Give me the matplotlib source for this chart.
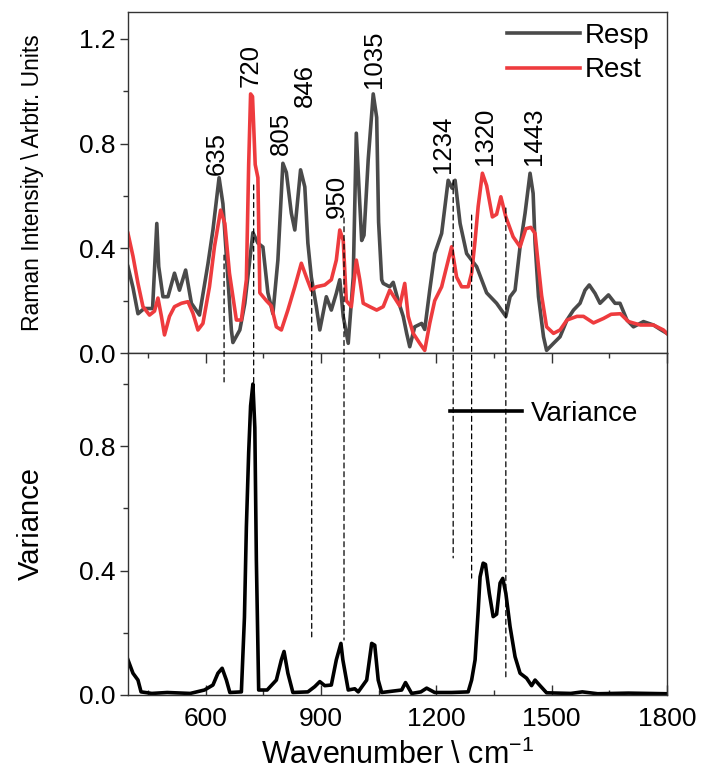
import matplotlib
matplotlib.use("Agg")
import matplotlib.pyplot as plt
from matplotlib.patches import ConnectionPatch
from matplotlib.ticker import MultipleLocator

plt.rcParams['font.family'] = ['Liberation Sans', 'DejaVu Sans']

# Raman spectra (top panel)
resp_wn = [398, 411, 424, 440, 462, 473, 478, 489, 502, 519, 532, 548, 563, 584,
           606, 619, 635, 645, 654, 667, 671, 689, 702, 723, 736, 749, 762, 775,
           788, 801, 810, 823, 832, 847, 858, 866, 875, 888, 897, 914, 927, 940,
           949, 958, 971, 984, 992, 1000, 1006, 1012, 1023, 1036, 1045, 1050, 1058,
           1062, 1079, 1088, 1101, 1114, 1123, 1131, 1144, 1162, 1170, 1183, 1196,
           1214, 1231, 1241, 1249, 1262, 1279, 1305, 1331, 1357, 1381, 1392, 1405,
           1418, 1431, 1444, 1452, 1457, 1466, 1479, 1487, 1505, 1522, 1540, 1557,
           1574, 1587, 1598, 1613, 1626, 1648, 1665, 1678, 1696, 1713, 1739, 1765,
           1783, 1800]
resp_val = [0.33, 0.25, 0.15, 0.17, 0.17, 0.495, 0.33, 0.215, 0.215, 0.305, 0.24,
            0.317, 0.19, 0.145, 0.34, 0.47, 0.67, 0.57, 0.37, 0.088, 0.04, 0.088,
            0.19, 0.46, 0.42, 0.405, 0.23, 0.15, 0.355, 0.725, 0.69, 0.534, 0.47,
            0.70, 0.635, 0.42, 0.29, 0.177, 0.088, 0.215, 0.164, 0.228, 0.28, 0.14,
            0.037, 0.29, 0.84, 0.6, 0.43, 0.45, 0.74, 0.99, 0.90, 0.5, 0.28, 0.266,
            0.253, 0.27, 0.2, 0.14, 0.075, 0.024, 0.1, 0.113, 0.09, 0.24, 0.38,
            0.457, 0.66, 0.63, 0.66, 0.495, 0.38, 0.33, 0.23, 0.19, 0.14, 0.215,
            0.24, 0.406, 0.534, 0.687, 0.61, 0.42, 0.215, 0.062, 0.01, 0.037, 0.062,
            0.126, 0.164, 0.19, 0.24, 0.26, 0.228, 0.19, 0.222, 0.19, 0.19, 0.126,
            0.1, 0.12, 0.107, 0.09, 0.075]

rest_wn = [398, 411, 424, 437, 454, 467, 476, 485, 493, 506, 519, 537, 554, 567,
           580, 593, 610, 623, 639, 650, 662, 680, 693, 706, 712, 717, 722, 729,
           736, 741, 758, 771, 784, 797, 814, 832, 849, 862, 875, 888, 910, 927,
           940, 949, 958, 966, 979, 992, 1001, 1010, 1027, 1045, 1062, 1079, 1092,
           1105, 1118, 1127, 1140, 1157, 1170, 1183, 1196, 1214, 1227, 1240, 1253,
           1266, 1283, 1292, 1301, 1309, 1320, 1331, 1346, 1357, 1368, 1381, 1400,
           1418, 1433, 1446, 1457, 1466, 1474, 1487, 1505, 1522, 1540, 1566, 1583,
           1609, 1635, 1655, 1679, 1700, 1731, 1765, 1791, 1800]
rest_val = [0.457, 0.37, 0.266, 0.177, 0.145, 0.16, 0.21, 0.14, 0.069, 0.14, 0.177,
            0.19, 0.196, 0.152, 0.088, 0.113, 0.253, 0.406, 0.546, 0.495, 0.305,
            0.126, 0.126, 0.28, 0.72, 0.99, 0.98, 0.72, 0.67, 0.23, 0.2, 0.18, 0.1,
            0.088, 0.164, 0.253, 0.343, 0.29, 0.24, 0.253, 0.26, 0.28, 0.355, 0.47,
            0.43, 0.2, 0.177, 0.355, 0.28, 0.19, 0.177, 0.164, 0.177, 0.24, 0.21,
            0.18, 0.266, 0.14, 0.075, 0.037, 0.01, 0.113, 0.2, 0.253, 0.33, 0.406,
            0.29, 0.253, 0.253, 0.305, 0.43, 0.56, 0.687, 0.64, 0.52, 0.53, 0.597,
            0.52, 0.444, 0.406, 0.475, 0.48, 0.457, 0.33, 0.22, 0.10, 0.075, 0.088,
            0.126, 0.14, 0.14, 0.115, 0.132, 0.148, 0.15, 0.12, 0.107, 0.107, 0.088,
            0.075]

# variance spectrum (bottom panel)
var_wn = [398, 411, 424, 432, 460, 500, 560, 597, 619, 632, 643, 654, 663, 693,
          701, 706, 712, 717, 723, 728, 732, 738, 760, 784, 797, 804, 814, 827,
          866, 884, 897, 910, 927, 940, 952, 957, 971, 988, 997, 1019, 1032, 1040,
          1049, 1058, 1110, 1120, 1136, 1160, 1175, 1196, 1240, 1283, 1292, 1301,
          1309, 1314, 1322, 1328, 1338, 1348, 1357, 1366, 1373, 1381, 1392, 1405,
          1418, 1435, 1448, 1457, 1470, 1487, 1550, 1580, 1620, 1700, 1800]
var_val = [0.113, 0.07, 0.048, 0.01, 0.005, 0.008, 0.005, 0.016, 0.032, 0.07, 0.086,
           0.048, 0.008, 0.01, 0.25, 0.54, 0.78, 0.93, 1.0, 0.86, 0.434, 0.016,
           0.016, 0.048, 0.113, 0.14, 0.07, 0.008, 0.01, 0.027, 0.043, 0.03, 0.032,
           0.113, 0.166, 0.113, 0.016, 0.02, 0.01, 0.048, 0.166, 0.16, 0.048, 0.008,
           0.016, 0.04, 0.005, 0.01, 0.022, 0.008, 0.008, 0.01, 0.048, 0.113, 0.27,
           0.38, 0.424, 0.42, 0.327, 0.252, 0.26, 0.36, 0.375, 0.327, 0.22, 0.123,
           0.07, 0.054, 0.03, 0.048, 0.03, 0.007, 0.005, 0.01, 0.004, 0.006, 0.004]

# peak labels: (text, x, y at label base)
peak_txt = ['635', '720', '805', '846', '950', '1035', '1234', '1320', '1443']
peak_x = [628, 716, 795, 857, 942, 1038, 1218, 1327, 1454]
peak_y = [0.68, 1.015, 0.757, 0.94, 0.516, 1.013, 0.688, 0.718, 0.718]

# dashed guide lines: x, top end (top panel units), bottom end (variance units)
guide_x = [648, 725, 876, 960, 1244, 1292, 1381]
guide_top = [0.374, 0.642, 0.271, 0.516, 0.661, 0.527, 0.554]
guide_bot = [1.007, 0.95, 0.187, 0.177, 0.441, 0.376, 0.048]

c_resp = '#4a4a4a'
c_rest = '#ee3b3e'

fig = plt.figure(figsize=(7.02, 7.76), dpi=100)
ax0 = fig.add_axes([0.1823, 0.5451, 0.7677, 0.4394])
ax1 = fig.add_axes([0.1823, 0.1044, 0.7677, 0.4407])

ax0.plot(resp_wn, resp_val, color=c_resp, lw=2.6, label='Resp')
ax0.plot(rest_wn, rest_val, color=c_rest, lw=2.6, label='Rest')
ax1.plot(var_wn, var_val, color='black', lw=2.6, label='Variance')

for t, x, y in zip(peak_txt, peak_x, peak_y):
    ax0.text(x, y, t, rotation=90, ha='center', va='bottom', fontsize=18.5)

for x, yt, yb in zip(guide_x, guide_top, guide_bot):
    con = ConnectionPatch(xyA=(x, yt), coordsA=ax0.transData,
                          xyB=(x, yb), coordsB=ax1.transData,
                          color='black', lw=0.9, linestyle=(0, (4, 3)))
    fig.add_artist(con)

ax0.set_xlim(398, 1800)
ax1.set_xlim(398, 1800)
ax0.set_ylim(0, 1.303)
ax1.set_ylim(0, 1.1)

for ax in (ax0, ax1):
    for s in ax.spines.values():
        s.set_linewidth(1.0)
        s.set_color('#333333')
    ax.xaxis.set_major_locator(MultipleLocator(300))
    ax.xaxis.set_minor_locator(MultipleLocator(150))
    ax.yaxis.set_major_locator(MultipleLocator(0.4))
    ax.yaxis.set_minor_locator(MultipleLocator(0.2))
    ax.tick_params(axis='y', which='both', direction='out', labelsize=19,
                   right=False, pad=3, color='#333333')
    ax.tick_params(axis='y', which='major', length=6, width=1.0)
    ax.tick_params(axis='y', which='minor', length=3.5, width=1.0)

ax0.tick_params(axis='x', which='both', bottom=False, top=False, labelbottom=False)
ax1.tick_params(axis='x', which='both', direction='in', top=True, bottom=True,
                labelsize=19, pad=9, color='#333333')
ax1.tick_params(axis='x', which='major', length=7, width=1.0)
ax1.tick_params(axis='x', which='minor', length=3.5, width=1.0)
ax1.set_yticks([0.0, 0.4, 0.8])
ax1.set_yticklabels(['0.0', '0.4', '0.8'])
ax0.set_yticklabels([f'{v:.1f}' for v in ax0.get_yticks()])

ax0.set_ylabel('Raman Intensity \\ Arbtr. Units', fontsize=16.5)
ax1.set_ylabel('Variance', fontsize=21)
ax1.set_xlabel('Wavenumber \\ cm$^{\\mathregular{-1}}$', fontsize=22)
ax0.yaxis.set_label_coords(-0.155, 0.5)
ax1.yaxis.set_label_coords(-0.155, 0.5)
ax1.xaxis.set_label_coords(0.5, -0.132)

ax0.legend(loc='upper left', bbox_to_anchor=(0.668, 1.025), frameon=False,
           fontsize=20, handlelength=2.6, handletextpad=0.2, labelspacing=0.3,
           borderpad=0.2)
ax1.legend(loc='center left', bbox_to_anchor=(0.572, 0.822), frameon=False,
           fontsize=20, handlelength=2.6, handletextpad=0.3, borderpad=0)

fig.savefig('out.png', dpi=100)
